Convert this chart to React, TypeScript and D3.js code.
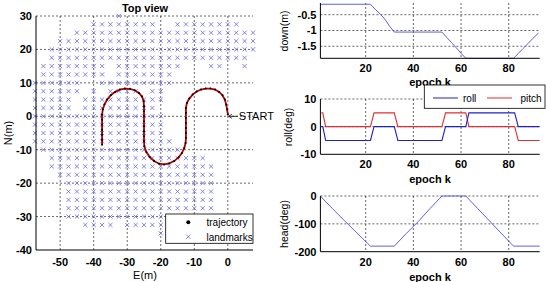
import { useEffect, useRef } from 'react';
import * as d3 from 'd3';

// landmark rows: north value and E spans (2.5 m grid)
const landmarkRows: [number, [number, number][]][] = [
  [30, [[-32.5, -32.5]]],
  [27.5, [[-40, -22.5], [-15, 2.5]]],
  [25, [[-45, 7.5]]],
  [22.5, [[-50, 7.5]]],
  [20, [[-52.5, 7.5]]],
  [17.5, [[-52.5, 5]]],
  [15, [[-55, -37.5], [-32.5, -15], [-5, -2.5], [5, 5]]],
  [12.5, [[-55, -37.5], [-32.5, -17.5]]],
  [10, [[-57.5, -45], [-37.5, -17.5]]],
  [7.5, [[-57.5, -45], [-40, -40], [-35, -27.5], [-22.5, -20]]],
  [5, [[-57.5, -47.5], [-42.5, -20]]],
  [2.5, [[-57.5, -47.5], [-42.5, -22.5]]],
  [0, [[-57.5, -20]]],
  [-2.5, [[-57.5, -20]]],
  [-5, [[-57.5, -20]]],
  [-7.5, [[-57.5, -17.5]]],
  [-10, [[-55, -15]]],
  [-12.5, [[-52.5, -7.5]]],
  [-15, [[-52.5, -5]]],
  [-17.5, [[-50, -5]]],
  [-20, [[-47.5, -5]]],
  [-22.5, [[-47.5, -5]]],
  [-25, [[-47.5, -5]]],
  [-27.5, [[-47.5, -5]]],
  [-30, [[-47.5, -20]]],
  [-32.5, [[-42.5, -35], [-30, -20]]],
  [-35, [[-20, -20]]],
];

// trajectory E,N from START
const trajE = [0, -0.2, -0.5, -0.9, -1.6, -2.6, -3.8, -5.2, -6.6, -8, -9.3, -10.5, -11.5, -12.2, -12.5, -12.5, -12.5, -12.5, -12.5, -12.5, -12.5, -12.6, -13, -13.7, -14.7, -16, -17.5, -19, -20.5, -22, -23.3, -24.3, -24.9, -25, -25, -25, -25, -25, -25, -25, -25, -25.1, -25.6, -26.5, -27.8, -29.2, -30.7, -32.2, -33.6, -34.9, -36, -36.8, -37.3, -37.5, -37.5, -37.5, -37.5, -37.5, -37.5, -37.5];
const trajN = [0.5, 2, 3.5, 5, 6.3, 7.3, 8, 8.3, 8.3, 8, 7.4, 6.5, 5.3, 4, 2.5, 1, -0.5, -2, -3.5, -5, -6.5, -8, -9.5, -11, -12.3, -13.4, -14.1, -14.4, -14.2, -13.4, -12.2, -10.7, -9, -7.5, -6, -4.5, -3, -1.5, 0, 1.5, 3, 4.5, 5.9, 7, 7.8, 8.2, 8.3, 8, 7.3, 6.3, 5, 3.5, 2, 0.5, -1, -2.5, -4, -5.5, -7, -8.5];

const topXTicks = [-50, -40, -30, -20, -10, 0];
const topYTicks = [30, 20, 10, 0, -10, -20, -30, -40];

const epochTicks = [20, 40, 60, 80];

const downK = [1, 22, 24, 26, 28, 30, 32, 52, 54, 56, 58, 60, 62, 82, 84, 86, 88, 90, 92.5];
const downV = [-0.17, -0.17, -0.33, -0.47, -0.64, -0.86, -1.05, -1.05, -1.22, -1.38, -1.55, -1.72, -1.88, -1.88, -1.73, -1.57, -1.42, -1.26, -1.08];

const rollK = [1.4, 2, 3.2, 22, 23.5, 32, 33.5, 52, 53.5, 62, 63.3, 82.5, 84, 93];
const rollV = [0, 0, -5, -5, 0, 0, -5, -5, 0, 0, 5, 5, 0, 0];
const pitchK = [1.4, 2, 3.2, 22, 23.5, 32, 33.5, 52, 53.5, 62, 63.3, 82.5, 84, 93];
const pitchV = [5, 5, 0, 0, 5, 5, 0, 0, 5, 5, 0, 0, -5, -5];

const headK = [1, 6, 11, 16, 22, 32, 37, 42, 47, 52, 62, 67, 72, 77, 82, 93];
const headV = [0, -45, -88, -130, -180, -180, -135, -92, -45, 0, 0, -45, -90, -135, -180, -180];

const font = "'Liberation Sans', Arial, sans-serif";

const App = () => {
  const svgRef = useRef<SVGSVGElement>(null);

  useEffect(() => {
    const svg = d3.select(svgRef.current);
    svg.selectAll('*').remove();

    const dashed = (g: any, x1: number, y1: number, x2: number, y2: number) =>
      g.append('line').attr('x1', x1).attr('y1', y1).attr('x2', x2).attr('y2', y2)
        .attr('stroke', '#000').attr('stroke-width', 0.6).attr('stroke-dasharray', '2,2');

    const solid = (g: any, x1: number, y1: number, x2: number, y2: number) =>
      g.append('line').attr('x1', x1).attr('y1', y1).attr('x2', x2).attr('y2', y2)
        .attr('stroke', '#000').attr('stroke-width', 1);

    const label = (g: any, x: number, y: number, t: string, size: number, anchor = 'middle', weight = 'normal') =>
      g.append('text').attr('x', x).attr('y', y).attr('font-family', font).attr('font-size', size)
        .attr('font-weight', weight).attr('text-anchor', anchor).attr('fill', '#000').text(t);

    // ---------- top view ----------
    const xL = d3.scaleLinear().domain([-57.2, 7.5]).range([36, 253]);
    const yL = d3.scaleLinear().domain([-40, 30]).range([250, 16]);
    const left = svg.append('g');

    topXTicks.forEach(v => dashed(left, xL(v), yL(30), xL(v), yL(-40)));
    topYTicks.filter(v => v > -40).forEach(v => dashed(left, xL.range()[0], yL(v), xL.range()[1], yL(v)));

    // landmarks
    const lm: [number, number][] = [];
    landmarkRows.forEach(([n, spans]) => spans.forEach(([a, b]) => {
      d3.range(a, b + 0.1, 2.5).forEach(e => lm.push([e, n]));
    }));
    const cross = (g: any, cx: number, cy: number, s: number) =>
      g.append('path').attr('d', `M${cx - s},${cy - s}L${cx + s},${cy + s}M${cx - s},${cy + s}L${cx + s},${cy - s}`)
        .attr('stroke', '#6666e6').attr('stroke-width', 0.8).attr('fill', 'none');
    lm.forEach(([e, n]) => cross(left, xL(e), yL(n), 2.1));

    // trajectory
    const traj = trajE.map((e, i) => [e, trajN[i]] as [number, number]);
    left.append('path').datum(traj)
      .attr('d', d3.line<[number, number]>().x(d => xL(d[0])).y(d => yL(d[1])))
      .attr('fill', 'none').attr('stroke', '#b00000').attr('stroke-width', 1.8);
    left.selectAll('circle.tr').data(traj).enter().append('circle')
      .attr('cx', d => xL(d[0])).attr('cy', d => yL(d[1])).attr('r', 1).attr('fill', '#000');

    solid(left, xL.range()[0], 16, xL.range()[0], 250);
    solid(left, xL.range()[0], 250, xL.range()[1], 250);

    topYTicks.forEach(v => label(left, 32, yL(v) + 4, String(v), 11, 'end', 'bold'));
    topXTicks.forEach(v => label(left, xL(v), 266, String(v), 11, 'middle', 'bold'));
    label(left, 145, 279, 'E(m)', 11);
    left.append('text').attr('transform', `translate(12,133) rotate(-90)`)
      .attr('font-family', font).attr('font-size', 11).attr('text-anchor', 'middle').text('N(m)');
    label(left, 145, 12, 'Top view', 11, 'middle', 'bold');

    // START annotation
    const sx = xL(0), sy = yL(0);
    left.append('path').attr('d', `M${sx + 1},${sy}L${sx + 10},${sy}M${sx + 1},${sy}l3,-2M${sx + 1},${sy}l3,2`)
      .attr('stroke', '#000').attr('stroke-width', 0.8).attr('fill', 'none');
    label(left, sx + 11, sy + 4, 'START', 11, 'start');

    // legend
    left.append('rect').attr('x', 165.7).attr('y', 214).attr('width', 87.3).attr('height', 29.3)
      .attr('fill', '#fff').attr('stroke', '#000').attr('stroke-width', 0.8);
    left.append('circle').attr('cx', 188.3).attr('cy', 222.3).attr('r', 2).attr('fill', '#000');
    cross(left, 188.3, 236.7, 2.1);
    label(left, 206.5, 226, 'trajectory', 10, 'start');
    label(left, 206.5, 240.5, 'landmarks', 10, 'start');

    // ---------- right plots ----------
    const xR = d3.scaleLinear().domain([1, 93]).range([320.4, 539.7]);
    const panels = [
      { domain: [-1.88, -0.13], range: [58.3, 3], ticks: [-0.5, -1, -1.5], grid: [-0.5, -1, -1.5], tickY: 72, xlabY: 86, ylab: 'down(m)', ylabX: 288, ylabY: 31 },
      { domain: [-10, 10], range: [154.3, 99], ticks: [10, 0, -10], grid: [10, 0], tickY: 168, xlabY: 183, ylab: 'roll(deg)', ylabX: 292, ylabY: 127 },
      { domain: [-200, 0], range: [251.7, 196], ticks: [0, -100, -200], grid: [0, -100], tickY: 265.5, xlabY: 280.5, ylab: 'head(deg)', ylabX: 288, ylabY: 224 },
    ];
    const ys = panels.map(p => d3.scaleLinear().domain(p.domain).range(p.range));

    panels.forEach((p, i) => {
      const g = svg.append('g');
      const y = ys[i];
      epochTicks.forEach(v => dashed(g, xR(v), p.range[1], xR(v), p.range[0]));
      p.grid.forEach(v => dashed(g, xR.range()[0], y(v), xR.range()[1], y(v)));
      epochTicks.forEach(v => label(g, xR(v), p.tickY, String(v), 11, 'middle', 'bold'));
      p.ticks.forEach(v => label(g, 316.5, y(v) + 4, String(v), 11, 'end', 'bold'));
      label(g, 430, p.xlabY, 'epoch k', 11, 'middle', 'bold');
      g.append('text').attr('transform', `translate(${p.ylabX},${p.ylabY}) rotate(-90)`)
        .attr('font-family', font).attr('font-size', 10.5).attr('text-anchor', 'middle').text(p.ylab);
    });

    const drawLine = (k: number[], v: number[], y: any, color: string, w = 1) =>
      svg.append('path').datum(k.map((d, i) => [d, v[i]] as [number, number]))
        .attr('d', d3.line<[number, number]>().x(d => xR(d[0])).y(d => y(d[1])))
        .attr('fill', 'none').attr('stroke', color).attr('stroke-width', w);

    drawLine(downK, downV, ys[0], '#6060e8');
    drawLine(pitchK, pitchV, ys[1], '#e03030', 1.1);
    drawLine(rollK, rollV, ys[1], '#2020c8', 1.1);
    drawLine(headK, headV, ys[2], '#6060e8');

    panels.forEach((p) => {
      solid(svg, xR.range()[0], p.range[1], xR.range()[0], p.range[0]);
      solid(svg, xR.range()[0], p.range[0], xR.range()[1], p.range[0]);
    });

    // roll / pitch legend
    const lg = svg.append('g');
    lg.append('rect').attr('x', 424.3).attr('y', 85).attr('width', 120.7).attr('height', 23.3)
      .attr('fill', '#fff').attr('stroke', '#000').attr('stroke-width', 0.8);
    lg.append('line').attr('x1', 433).attr('x2', 458).attr('y1', 98).attr('y2', 98).attr('stroke', '#2020c8');
    label(lg, 463, 101.5, 'roll', 10, 'start');
    lg.append('line').attr('x1', 487).attr('x2', 512).attr('y1', 98).attr('y2', 98).attr('stroke', '#e03030');
    label(lg, 520.5, 101.5, 'pitch', 10, 'start');
  }, []);

  return (
    <svg ref={svgRef} width={546} height={282}
      style={{ position: 'absolute', left: 0, top: 0, background: '#fff' }} />
  );
};

export default App;
